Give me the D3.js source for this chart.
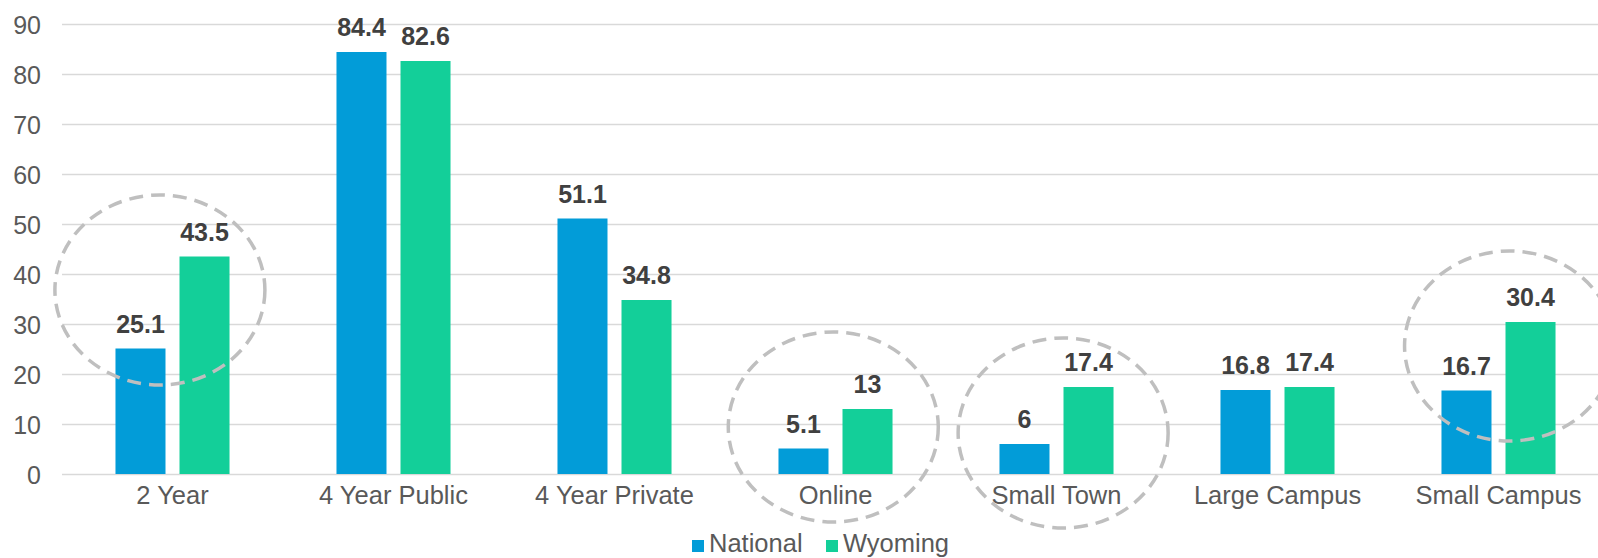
<!DOCTYPE html>
<html>
<head>
<meta charset="utf-8">
<script src="https://cdn.jsdelivr.net/npm/d3@7"></script>
<style>
  html, body { margin: 0; padding: 0; background: #fff; }
  svg { display: block; font-family: "Liberation Sans", Arial, Helvetica, sans-serif; }
</style>
</head>
<body>
<svg id="chart" width="1598" height="558"></svg>
<script>
// ---- data ----
const categories = ["2 Year", "4 Year Public", "4 Year Private", "Online", "Small Town", "Large Campus", "Small Campus"];
const seriesNames = ["National", "Wyoming"];
const national = [25.1, 84.4, 51.1, 5.1, 6, 16.8, 16.7];
const wyoming  = [43.5, 82.6, 34.8, 13, 17.4, 17.4, 30.4];
const yTicks = [0, 10, 20, 30, 40, 50, 60, 70, 80, 90];
// highlight circles: category, horizontal offset (fraction of band step), vertical centre (value units)
const highlightCats = ["2 Year", "Online", "Small Town", "Small Campus"];
const highlightDx = [-0.057, -0.01, 0.03, 0.05];
const highlightY = [36.8, 9.4, 8.2, 25.6];

const colors = ["#029CD8", "#13CF99"];

// ---- layout ----
const svg = d3.select("#chart");
const mLeft = 62, mRight = 1609, mTop = 24, mBottom = 474;

const x0 = d3.scaleBand().domain(categories).range([mLeft, mRight]).paddingInner(0.484).paddingOuter(0.242);
const x1 = d3.scaleBand().domain(seriesNames).range([0, x0.bandwidth()]).paddingInner(0.21875);
const y = d3.scaleLinear().domain([0, 90]).range([mBottom, mTop]);
const color = d3.scaleOrdinal().domain(seriesNames).range(colors);

// grid lines
const grid = d3.axisLeft(y).tickValues(yTicks).tickSize(-(1598 - mLeft)).tickFormat("");
svg.append("g").attr("transform", `translate(${mLeft},0)`).call(grid)
  .call(g => g.select(".domain").remove())
  .call(g => g.selectAll("line").attr("stroke", "#d9d9d9").attr("stroke-width", 1.5));

// y tick labels
const yAxis = d3.axisLeft(y).tickValues(yTicks).tickSize(0).tickPadding(21);
svg.append("g").attr("transform", `translate(${mLeft},0)`).call(yAxis)
  .call(g => g.select(".domain").remove())
  .call(g => g.selectAll("text").attr("fill", "#595959").attr("font-size", 25)
    .attr("font-family", "Liberation Sans, Arial, sans-serif").attr("dy", "0.36em"));

// x axis labels
const xAxis = d3.axisBottom(x0).tickSize(0).tickPadding(12);
svg.append("g").attr("transform", `translate(0,${mBottom})`).call(xAxis)
  .call(g => g.select(".domain").remove())
  .call(g => g.selectAll("text").attr("fill", "#595959").attr("font-size", 25.5)
    .attr("font-family", "Liberation Sans, Arial, sans-serif").attr("dy", "0.71em"));

// bars
const rows = categories.map((c, i) => ({ cat: c, vals: [
  { s: "National", v: national[i] }, { s: "Wyoming", v: wyoming[i] } ] }));

const groups = svg.append("g").selectAll("g").data(rows).join("g")
  .attr("transform", d => `translate(${x0(d.cat)},0)`);

groups.selectAll("rect").data(d => d.vals).join("rect")
  .attr("x", d => x1(d.s))
  .attr("width", x1.bandwidth())
  .attr("y", d => y(d.v))
  .attr("height", d => y(0) - y(d.v))
  .attr("fill", d => color(d.s));

groups.selectAll("text").data(d => d.vals).join("text")
  .attr("x", d => x1(d.s) + x1.bandwidth() / 2)
  .attr("y", d => y(d.v) - 16)
  .attr("text-anchor", "middle")
  .attr("font-weight", "bold")
  .attr("font-size", 25)
  .attr("fill", "#404040")
  .text(d => d.v);

// dashed highlight ellipses
const step = x0.step();
svg.append("g").selectAll("ellipse").data(highlightCats).join("ellipse")
  .attr("cx", (c, i) => x0(c) + x0.bandwidth() / 2 + highlightDx[i] * step)
  .attr("cy", (c, i) => y(highlightY[i]))
  .attr("rx", 105)
  .attr("ry", 95)
  .attr("fill", "none")
  .attr("stroke", "#bfbfbf")
  .attr("stroke-width", 3.5)
  .attr("stroke-dasharray", "14,8");

// legend
const legend = svg.append("g").attr("transform", "translate(692,540)");
const legendX = [0, 134];
const lg = legend.selectAll("g").data(seriesNames).join("g")
  .attr("transform", (d, i) => `translate(${legendX[i]},0)`);
lg.append("rect").attr("width", 12).attr("height", 12).attr("fill", d => color(d));
lg.append("text").attr("x", 17).attr("y", 12).attr("font-size", 25.5).attr("fill", "#595959").text(d => d);
</script>
</body>
</html>
